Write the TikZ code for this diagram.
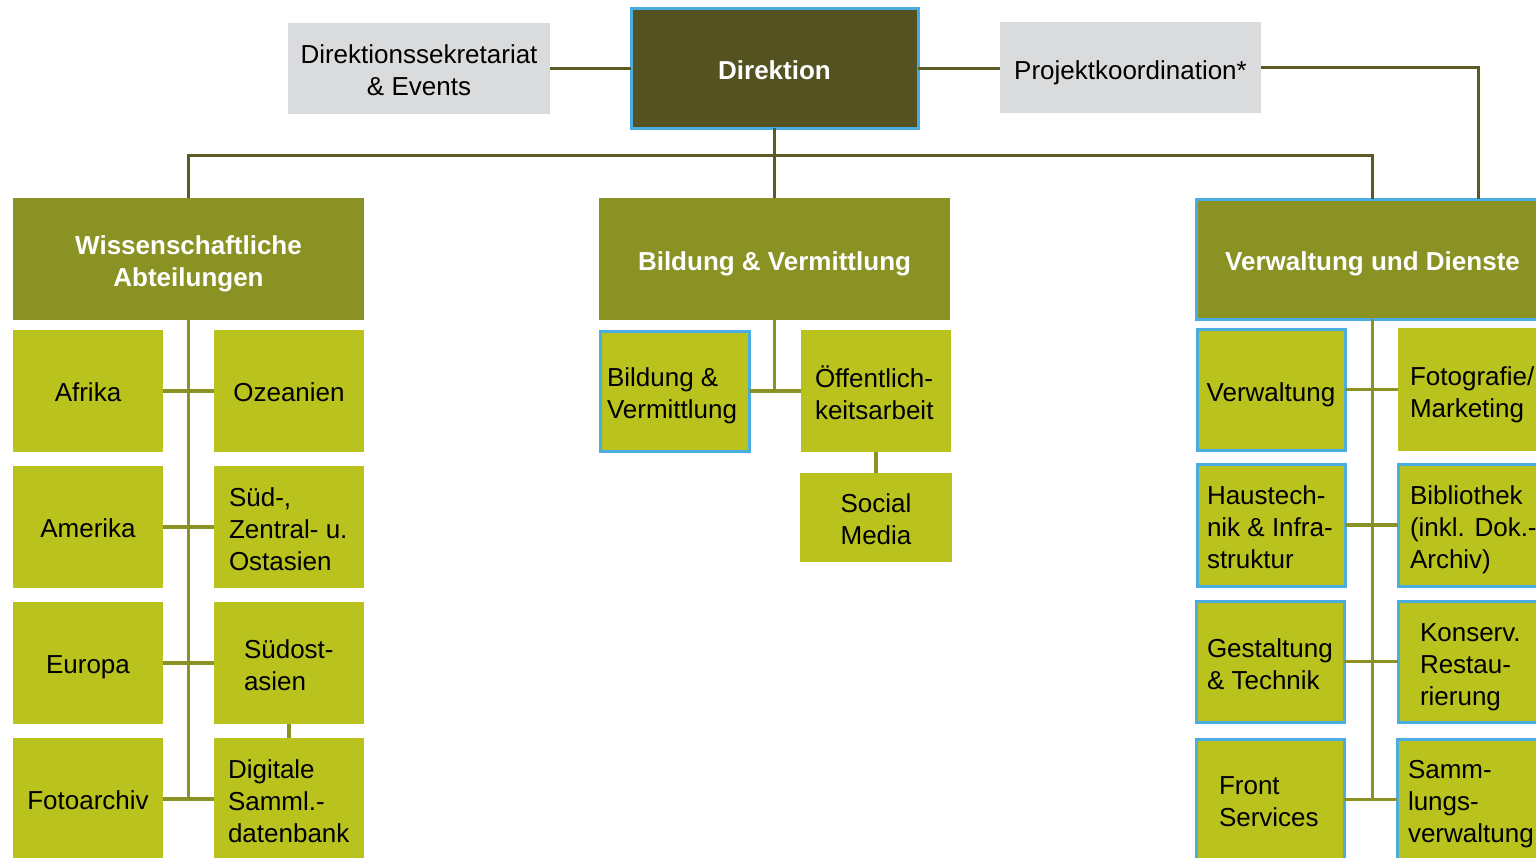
\documentclass[tikz,border=0pt]{standalone}
\usepackage{fontspec}
\setmainfont{Liberation Sans}
\definecolor{dirfill}{HTML}{535220}
\definecolor{headfill}{HTML}{899222}
\definecolor{subfill}{HTML}{BAC21E}
\definecolor{greyfill}{HTML}{DADBDD}
\definecolor{bblue}{HTML}{4AADE2}
\definecolor{darkline}{HTML}{5A5A22}
\definecolor{oliveline}{HTML}{8A9226}
\tikzset{
 base/.style={rectangle, inner sep=0pt, outer sep=0pt, anchor=north west},
 dirbox/.style={base, fill=dirfill, draw=bblue, line width=3pt},
 greybox/.style={base, fill=greyfill},
 headbox/.style={base, fill=headfill},
 subbox/.style={base, fill=subfill},
 blueedge/.style={draw=bblue, line width=3pt},
 lbl/.style={anchor=west, inner sep=0pt, outer sep=0pt, align=left, font=\fontsize{26}{32}\selectfont},
 ctr/.style={anchor=center, inner sep=0pt, outer sep=0pt, align=center, font=\fontsize{26}{32}\selectfont},
 wlbl/.style={ctr, text=white, font=\bfseries\fontsize{26}{32}\selectfont},
 dline/.style={draw=darkline, line width=3pt},
 oline/.style={draw=oliveline, line width=3.5pt},
}
\begin{document}
\begin{tikzpicture}[x=1pt,y=-1pt]
\useasboundingbox (0,0) rectangle (1536,857);
\clip (0,0) rectangle (1536,857);
% top level
\node[dirbox, minimum width=287pt, minimum height=120pt] (dir) at (631,8) {};
\node[greybox, minimum width=262pt, minimum height=91pt] (sek) at (288,23) {};
\node[greybox, minimum width=261pt, minimum height=91pt] (proj) at (1000,22) {};
\node[wlbl] (dirT) at (774.5,70) {Direktion};
\node[ctr] (sekT) at (419,70.5) {Direktionssekretariat\\\& Events};
\node[ctr] (projT) at (1130.5,72.5) {Projektkoordination*};
% level 2
\node[headbox, minimum width=351pt, minimum height=122pt] (wa) at (13,198) {};
\node[headbox, minimum width=351pt, minimum height=122pt] (bvh) at (599,198) {};
\node[headbox, blueedge, minimum width=353pt, minimum height=120pt] (vud) at (1196,199) {};
\node[wlbl] (waT) at (188.5,264) {Wissenschaftliche\\Abteilungen};
\node[wlbl] (bvhT) at (774.5,264) {Bildung \& Vermittlung};
\node[wlbl] (vudT) at (1372.5,264) {Verwaltung und Dienste};
% left column
\node[subbox, minimum width=150pt, minimum height=122pt] (afrika) at (13,330) {};
\node[subbox, minimum width=150pt, minimum height=122pt] (ozean) at (214,330) {};
\node[subbox, minimum width=150pt, minimum height=122pt] (amerika) at (13,466) {};
\node[subbox, minimum width=150pt, minimum height=122pt] (sued) at (214,466) {};
\node[subbox, minimum width=150pt, minimum height=122pt] (europa) at (13,602) {};
\node[subbox, minimum width=150pt, minimum height=122pt] (suedost) at (214,602) {};
\node[subbox, minimum width=150pt, minimum height=122pt] (fotoarch) at (13,738) {};
\node[subbox, minimum width=150pt, minimum height=122pt] (digi) at (214,738) {};
\node[ctr] (afrikaT) at (88,392) {Afrika};
\node[ctr] (ozeanT) at (289,392) {Ozeanien};
\node[ctr] (amerikaT) at (88,528) {Amerika};
\node[ctr] (europaT) at (88,667) {Europa};
\node[ctr] (fotoarchT) at (88,800) {Fotoarchiv};
\node[lbl] (suedT) at (229,529) {Süd-,\\Zentral- u.\\Ostasien};
\node[lbl] (suedostT) at (244,665) {Südost-\\asien};
\node[lbl] (digiT) at (228,801) {Digitale\\Samml.-\\datenbank};
% middle column
\node[subbox, blueedge, minimum width=149pt, minimum height=120pt] (bvs) at (600,331) {};
\node[subbox, minimum width=150pt, minimum height=122pt] (oeff) at (801,330) {};
\node[subbox, minimum width=152pt, minimum height=89pt] (social) at (800,473) {};
\node[lbl] (bvsT) at (607,396) {Bildung \&\\Vermittlung};
\node[lbl] (oeffT) at (815,393) {Öffentlich-\\keitsarbeit};
\node[ctr] (socialT) at (876,519.5) {Social\\Media};
% right column
\node[subbox, blueedge, minimum width=148pt, minimum height=121pt] (verw) at (1197,329) {};
\node[subbox, minimum width=151pt, minimum height=123pt] (fotomk) at (1398,328) {};
\node[subbox, blueedge, minimum width=148pt, minimum height=122pt] (haus) at (1197,464) {};
\node[subbox, blueedge, minimum width=150pt, minimum height=122pt] (bib) at (1398,464) {};
\node[subbox, blueedge, minimum width=148pt, minimum height=121pt] (gest) at (1196,601) {};
\node[subbox, blueedge, minimum width=150pt, minimum height=121pt] (kons) at (1398,601) {};
\node[subbox, blueedge, minimum width=148pt, minimum height=121pt] (front) at (1196,739) {};
\node[subbox, blueedge, minimum width=150pt, minimum height=121pt] (samm) at (1397,739) {};
\node[ctr] (verwT) at (1271,394.5) {Verwaltung};
\node[lbl] (fotomkT) at (1410,395) {Fotografie/\\Marketing};
\node[lbl] (hausT) at (1207,527) {Haustech-\\nik \& Infra-\\struktur};
\node[lbl] (bibT) at (1410,530) {Bibliothek\\(inkl. Dok.-\\Archiv)};
\node[lbl] (gestT) at (1207,664) {Gestaltung\\\& Technik};
\node[lbl] (konsT) at (1420,667) {Konserv.\\Restau-\\rierung};
\node[lbl] (frontT) at (1219,802) {Front\\Services};
\node[lbl] (sammT) at (1408,804) {Samm-\\lungs-\\verwaltung};
% connectors top
\coordinate (bus) at (775,155);
\coordinate (pk) at (1478,199);
\draw[dline] (sek.east) -- (sek.east -| dir.west);
\draw[dline] (dir.east) -- (dir.east -| proj.west);
\draw[dline] (proj.east) -| (pk);
\draw[dline] (dir.south) -- (bvh.north);
\draw[dline] (wa.north) |- (bus) -| (vud.north);
% left column connectors
\draw[oline] (wa.south) -- (wa.south |- fotoarch.east);
\draw[oline] (afrika.east) -- (ozean.west);
\draw[oline] (amerika.east) -- (sued.west);
\draw[oline] (europa.east) -- (suedost.west);
\draw[oline] (fotoarch.east) -- (digi.west);
\draw[oline] (suedost.south) -- (digi.north);
% middle connectors
\draw[oline] (bvh.south) -- (bvh.south |- bvs.east);
\draw[oline] (bvs.east) -- (oeff.west);
\draw[oline] (oeff.south) -- (social.north);
% right connectors
\draw[oline] (vud.south) -- (vud.south |- front.east);
\draw[oline] (verw.east) -- (fotomk.west);
\draw[oline] (haus.east) -- (bib.west);
\draw[oline] (gest.east) -- (kons.west);
\draw[oline] (front.east) -- (samm.west);
\end{tikzpicture}
\end{document}
